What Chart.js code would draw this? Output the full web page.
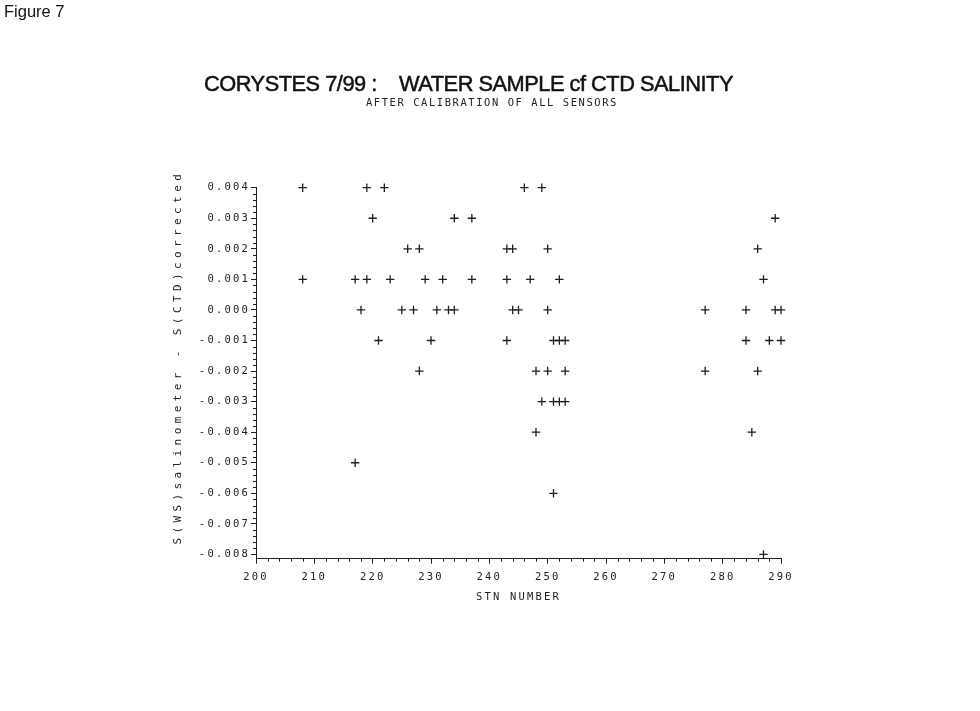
<!DOCTYPE html>
<html><head><meta charset="utf-8">
<script src="https://cdn.jsdelivr.net/npm/chart.js@4/dist/chart.umd.min.js"></script>
<style>
html,body{margin:0;padding:0;background:#fff;width:980px;height:711px;overflow:hidden;}
#wrap{position:relative;width:980px;height:711px;}
canvas{position:absolute;left:0;top:0;}
.t{position:absolute;white-space:pre;color:#111;transform-origin:0 0;line-height:1;}
#fig{left:4px;top:2px;font:16.5px "Liberation Sans",Arial,sans-serif;}
#title{left:204px;top:71px;font:22.5px "Liberation Sans",Arial,sans-serif;letter-spacing:-0.5px;-webkit-text-stroke:0.5px #111;}
#sub{left:366px;top:96px;font:10.5px "DejaVu Sans Mono",monospace;letter-spacing:1.6px;color:#222;}
</style></head>
<body><div id="wrap">
<canvas id="c" width="980" height="711"></canvas>
<div class="t" id="fig">Figure 7</div>
<div class="t" id="title">CORYSTES 7/99 :    WATER SAMPLE cf CTD SALINITY</div>
<div class="t" id="sub">AFTER CALIBRATION OF ALL SENSORS</div>
</div>
<script>
// ---- data ----
const stations = [
  208,219,222,246,249,
  220,234,237,289,
  226,228,243,244,250,286,
  208,217,219,223,229,232,237,243,247,252,287,
  218,225,227,231,233,234,244,245,250,277,284,289,290,
  221,230,243,251,252,253,284,288,290,
  228,248,250,253,277,286,
  249,251,252,253,
  248,285,
  217,
  251,
  287
];
const salinityDiff = [
  0.004,0.004,0.004,0.004,0.004,
  0.003,0.003,0.003,0.003,
  0.002,0.002,0.002,0.002,0.002,0.002,
  0.001,0.001,0.001,0.001,0.001,0.001,0.001,0.001,0.001,0.001,0.001,
  0,0,0,0,0,0,0,0,0,0,0,0,0,
  -0.001,-0.001,-0.001,-0.001,-0.001,-0.001,-0.001,-0.001,-0.001,
  -0.002,-0.002,-0.002,-0.002,-0.002,-0.002,
  -0.003,-0.003,-0.003,-0.003,
  -0.004,-0.004,
  -0.005,
  -0.006,
  -0.008
];
const xTickValues = [200,210,220,230,240,250,260,270,280,290];
const yTickValues = [0.004,0.003,0.002,0.001,0,-0.001,-0.002,-0.003,-0.004,-0.005,-0.006,-0.007,-0.008];

const points = stations.map((s,i)=>({x:s,y:salinityDiff[i]}));
const INK = '#1e1e1e';
const tickFont = {family:'"DejaVu Sans Mono", monospace', size:10.5};

const spacingPlugin = {
  id:'spacing',
  beforeDraw(chart){
    chart.ctx.letterSpacing = '2.2px';
    const y = chart.scales.y;
    if (y && !y._wrappedTitle){
      const orig = y.drawTitle;
      y.drawTitle = function(){
        const c = this.ctx; c.save(); c.letterSpacing = '4.4px'; c.translate(0,-16);
        orig.apply(this, arguments); c.restore();
      };
      y._wrappedTitle = true;
    }
  },
  afterDraw(chart){
    const ctx = chart.ctx; ctx.letterSpacing = '0px';
    const xs = chart.scales.x, ys = chart.scales.y;
    ctx.save(); ctx.strokeStyle = INK; ctx.lineWidth = 1; ctx.beginPath();
    for (let v = 202; v < 290; v += 2){
      if (v % 10 === 0) continue;
      const px = Math.round(xs.getPixelForValue(v)) + 0.5;
      ctx.moveTo(px, xs.top); ctx.lineTo(px, xs.top + 3);
    }
    for (let i = -39; i < 20; i++){
      if (i % 5 === 0) continue;
      const py = Math.round(ys.getPixelForValue(i*0.0002)) + 0.5;
      ctx.moveTo(ys.right, py); ctx.lineTo(ys.right - 3, py);
    }
    ctx.stroke(); ctx.restore();
  }
};

new Chart(document.getElementById('c'), {
  type:'scatter',
  data:{datasets:[{data:points, pointStyle:'cross', radius:4.2, hoverRadius:4.2,
    borderColor:INK, backgroundColor:INK, borderWidth:1.3, showLine:false, clip:false}]},
  options:{
    responsive:false, animation:false, devicePixelRatio:1,
    layout:{autoPadding:false, padding:{left:172, right:199, top:187.7, bottom:107.7}},
    plugins:{legend:{display:false}, tooltip:{enabled:false}},
    events:[],
    scales:{
      x:{type:'linear', min:200, max:290,
        afterBuildTicks:s=>{ s.ticks = xTickValues.map(v=>({value:v})); },
        afterFit:s=>{ s.height = 44.6; },
        grid:{display:true, drawOnChartArea:false, drawTicks:true, tickLength:5, color:INK, tickColor:INK, lineWidth:1},
        border:{display:true, color:INK, width:1},
        ticks:{font:tickFont, color:'#222', padding:7, maxRotation:0, autoSkip:false, callback:v=>String(v)},
        title:{display:true, text:'STN NUMBER', font:tickFont, color:'#222', padding:0}
      },
      y:{type:'linear', min:-0.00814, max:0.004,
        afterBuildTicks:s=>{ s.ticks = yTickValues.map(v=>({value:v})); },
        afterFit:s=>{ s.width = 84; },
        grid:{display:true, drawOnChartArea:false, drawTicks:true, tickLength:5, color:INK, tickColor:INK, lineWidth:1},
        border:{display:true, color:INK, width:1},
        ticks:{font:tickFont, color:'#222', padding:1, autoSkip:false, callback:v=>Number(v).toFixed(3)},
        title:{display:true, text:'S(WS)salinometer - S(CTD)corrected', font:{family:'"DejaVu Sans Mono", monospace', size:11}, color:'#222', padding:0}
      }
    }
  },
  plugins:[spacingPlugin]
});

function fit(id, w){ const el=document.getElementById(id); const r = w/el.getBoundingClientRect().width; el.style.transform='scaleX('+r+')'; }
fit('title', 529);
fit('sub', 252);
</script>
</body></html>
